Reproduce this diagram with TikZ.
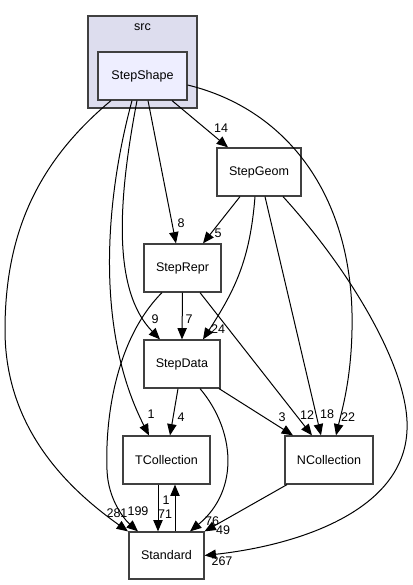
\documentclass[tikz,border=0pt]{standalone}
\usepackage{fontspec}
\setmainfont{Liberation Sans}
\usetikzlibrary{arrows.meta,calc}
\definecolor{bordergray}{HTML}{404040}
\definecolor{clusterfill}{HTML}{DDDDEE}
\definecolor{shapefill}{HTML}{EEEEFF}
\begin{document}
\begin{tikzpicture}[x=0.75pt,y=-0.75pt,
  pkg/.style={draw=bordergray, line width=0.9pt, fill=white, minimum height=36pt, inner sep=0pt, font=\fontsize{9.4}{11}\selectfont},
  edge/.style={draw=black, line width=0.75pt, -{Triangle[length=8.5pt,width=7pt]}},
  lbl/.style={font=\fontsize{9.4}{11}\selectfont, inner sep=0pt}]
\useasboundingbox (0,0) rectangle (412,585);
% cluster
\node[draw=bordergray, line width=0.9pt, fill=clusterfill, minimum width=81.75pt, minimum height=69pt, inner sep=0pt] (src) at (142.5,62) {};
\node[lbl] (srclbl) at (142.5,27) {src};
% nodes
\node[pkg, fill=shapefill, minimum width=66.75pt] (StepShape) at (142.5,76) {StepShape};
\node[pkg, minimum width=63pt] (StepGeom) at (259,172) {StepGeom};
\node[pkg, minimum width=57.75pt] (StepRepr) at (182.5,268) {StepRepr};
\node[pkg, minimum width=57pt] (StepData) at (182,364) {StepData};
\node[pkg, minimum width=65.25pt] (TCollection) at (166.5,460) {TCollection};
\node[pkg, minimum width=66pt] (NCollection) at (329,460) {NCollection};
\node[pkg, minimum width=56.25pt, minimum height=35.25pt] (Standard) at (166.5,555.5) {Standard};
% edges from StepShape
\draw[edge] ($(StepShape.south)+(-31.5,0)$) .. controls (40,160) and (5,230) .. (5,330) .. controls (5,430) and (70,490) .. ($(Standard.north)+(-38.5,0)$);
\draw[edge] ($(StepShape.south)+(-10.5,0)$) .. controls (105,200) and (95,330) .. ($(TCollection.north)+(-17.5,0)$);
\draw[edge] ($(StepShape.south)+(-5.5,0)$) .. controls (118,200) and (112,290) .. ($(StepData.north)+(-22,0)$);
\draw[edge] ($(StepShape.south)+(5.5,0)$) -- ($(StepRepr.north)+(-6.5,0)$);
\draw[edge] ($(StepShape.south)+(29.5,0)$) -- ($(StepGeom.north)+(-31,0)$);
\draw[edge] ($(StepShape.east)+(0,9)$) .. controls (290,110) and (355,200) .. (352,330) .. controls (351,380) and (342,410) .. ($(NCollection.north)+(7,0)$);
% edges from StepGeom
\draw[edge] ($(StepGeom.south)+(-19,0)$) -- ($(StepRepr.north)+(20.5,0)$);
\draw[edge] ($(StepGeom.south)+(-4,0)$) .. controls (250,260) and (235,290) .. ($(StepData.north)+(21,0)$);
\draw[edge] ($(StepGeom.south)+(6,0)$) -- ($(NCollection.north)+(-8,0)$);
\draw[edge] ($(StepGeom.south)+(24,0)$) .. controls (350,270) and (410,370) .. (407,430) .. controls (404,510) and (300,545) .. (Standard.east);
% edges from StepRepr
\draw[edge] (StepRepr.south) -- (StepData.north);
\draw[edge] ($(StepRepr.south)+(17.5,0)$) -- ($(NCollection.north)+(-17,0)$);
\draw[edge] ($(StepRepr.south)+(-20.5,0)$) .. controls (115,340) and (105,420) .. (107,470) .. controls (108,500) and (125,520) .. ($(Standard.north)+(-28.5,0)$);
% edges from StepData
\draw[edge] ($(StepData.south)+(-4,0)$) -- ($(TCollection.north)+(3.5,0)$);
\draw[edge] ($(StepData.south)+(37,0)$) -- ($(NCollection.north)+(-36,0)$);
\draw[edge] ($(StepData.south)+(18,0)$) .. controls (235,430) and (240,490) .. ($(Standard.north)+(23.5,0)$);
% TCollection / Standard
\draw[edge] ($(TCollection.south)+(-8.5,0)$) -- ($(Standard.north)+(-8.5,0)$);
\draw[edge] ($(Standard.north)+(8.5,0)$) -- ($(TCollection.south)+(8.5,0)$);
% NCollection -> Standard
\draw[edge] ($(NCollection.south)+(-42,0)$) -- ($(Standard.north)+(38,0)$);
% labels
\node[lbl] (l14) at (221,128) {14};
\node[lbl] (l8) at (181,223) {8};
\node[lbl] (l5) at (218,233) {5};
\node[lbl] (l9) at (155,319) {9};
\node[lbl] (l7) at (189,319) {7};
\node[lbl] (l24) at (218,329) {24};
\node[lbl] (l1a) at (151,414) {1};
\node[lbl] (l4) at (181,417) {4};
\node[lbl] (l3) at (282,417) {3};
\node[lbl] (l12) at (307,415) {12};
\node[lbl] (l18) at (327,414) {18};
\node[lbl] (l22) at (348,417) {22};
\node[lbl] (l281) at (117,513) {281};
\node[lbl] (l199) at (138,511) {199};
\node[lbl] (l1b) at (166,500) {1};
\node[lbl] (l71) at (165,514) {71};
\node[lbl] (l76) at (212,521) {76};
\node[lbl] (l49) at (223,530) {49};
\node[lbl] (l267) at (222,561) {267};
\end{tikzpicture}
\end{document}
